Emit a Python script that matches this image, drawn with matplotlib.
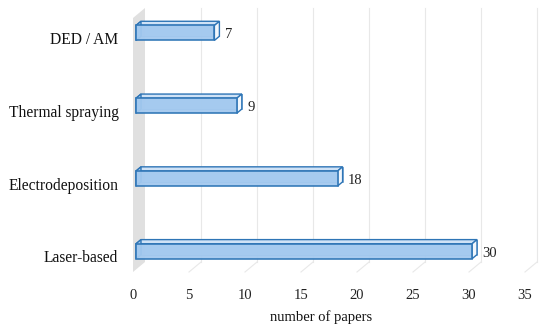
import numpy as np
import matplotlib.pyplot as plt
from matplotlib.patches import Polygon
from matplotlib.transforms import ScaledTranslation

# data
categories = ['Laser-based', 'Electrodeposition', 'Thermal spraying', 'DED / AM']
papers = [30, 18, 9, 7]
xticks = [0, 5, 10, 15, 20, 25, 30, 35]

plt.rcParams['font.family'] = ['Liberation Serif', 'DejaVu Serif']

fig = plt.figure(figsize=(5.5, 3.32), dpi=100)
W, H = 550, 332
left, right, top, bottom = 133, 525, 18, 272
ax = fig.add_axes([left / W, 1 - bottom / H, (right - left) / W, (bottom - top) / H])

y0, y1 = -0.25, 3.24
ax.set_xlim(0, 35)
ax.set_ylim(y0, y1)

# pixel -> data unit scale
sx = (right - left) / 35.0
sy = (bottom - top) / (y1 - y0)

def off(px, py):
    return px / sx, py / sy

wall_dx, wall_dy = off(12, 10)
f_dx, f_dy = off(3, 2.5)
b_dx, b_dy = off(8, 6.7)

grid_c = '#e8e8e8'

# back wall gridlines + floor diagonals
for t in xticks[1:]:
    ax.plot([t + wall_dx, t + wall_dx], [y0 + wall_dy, y1 + wall_dy], color=grid_c, lw=0.8, clip_on=False, zorder=1)
    ax.plot([t, t + wall_dx], [y0, y0 + wall_dy], color=grid_c, lw=0.8, clip_on=False, zorder=1)

# left side wall
ax.add_patch(Polygon([[0, y0], [wall_dx, y0 + wall_dy], [wall_dx, y1 + wall_dy], [0, y1]],
                     closed=True, facecolor='#e0e0e0', edgecolor='none', clip_on=False, zorder=1))

edge = '#2e75b6'
bh = 0.206
ypos = np.arange(len(categories))
for y, v in zip(ypos, papers):
    ya, yb = y - bh / 2, y + bh / 2
    # back face (faint)
    ax.add_patch(Polygon([[b_dx, ya + b_dy], [v + b_dx, ya + b_dy], [v + b_dx, yb + b_dy], [b_dx, yb + b_dy]],
                         closed=True, facecolor='#bcd7f2', edgecolor=edge, lw=0.6, alpha=0.6, clip_on=False, zorder=2))
    # top face
    ax.add_patch(Polygon([[f_dx, yb + f_dy], [v + f_dx, yb + f_dy], [v + b_dx, yb + b_dy], [b_dx, yb + b_dy]],
                         closed=True, facecolor='#cfe2f6', edgecolor=edge, lw=1.0, clip_on=False, zorder=3))
    # end face
    ax.add_patch(Polygon([[v + f_dx, ya + f_dy], [v + b_dx, ya + b_dy], [v + b_dx, yb + b_dy], [v + f_dx, yb + f_dy]],
                         closed=True, facecolor='#f2f7fc', edgecolor=edge, lw=1.0, clip_on=False, zorder=3))
    # left end face
    ax.add_patch(Polygon([[f_dx, ya + f_dy], [b_dx, ya + b_dy], [b_dx, yb + b_dy], [f_dx, yb + f_dy]],
                         closed=True, facecolor='#a9cdf0', edgecolor=edge, lw=1.0, clip_on=False, zorder=3))
    # front face
    ax.add_patch(Polygon([[f_dx, ya + f_dy], [v + f_dx, ya + f_dy], [v + f_dx, yb + f_dy], [f_dx, yb + f_dy]],
                         closed=True, facecolor='#a3c9ef', edgecolor=edge, lw=1.2, alpha=0.95, clip_on=False, zorder=4))
    ax.text(v + b_dx + 0.5, y + f_dy * 0.3, str(v), ha='left', va='center', fontsize=10.5, color='#222222')

ax.set_yticks(ypos)
ax.set_yticklabels(categories, fontsize=11.2, color='#111111')
ax.set_xticks(xticks)
ax.set_xticklabels([str(t) for t in xticks], fontsize=10.5, color='#222222')
ax.tick_params(axis='both', length=0)
ax.tick_params(axis='y', pad=10.5)
ax.tick_params(axis='x', pad=12)
shift = ScaledTranslation(0, -0.025, fig.dpi_scale_trans)
for lab in ax.get_yticklabels():
    lab.set_transform(lab.get_transform() + shift)
for s in ax.spines.values():
    s.set_visible(False)
ax.set_xlabel('number of papers', fontsize=10.5, labelpad=5, color='#111111')
ax.xaxis.set_label_coords(0.48, -0.15)
ax.patch.set_alpha(0)

fig.savefig('out.png', dpi=100)
